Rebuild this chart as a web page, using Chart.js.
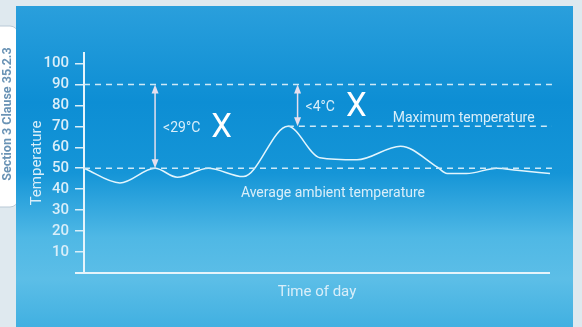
<!DOCTYPE html>
<html>
<head>
<meta charset="utf-8">
<script src="https://cdn.jsdelivr.net/npm/chart.js@4.4.0/dist/chart.umd.min.js"></script>
<style>
    html, body { margin: 0; padding: 0; background: #dfe9ef; }
    #wrap { width: 582px; height: 327px; position: relative; }
</style>
</head>
<body>
<div id="wrap"><canvas id="tempChart"></canvas></div>
<script>
// 温度の推移 (横軸は時刻、目盛りなし)
const hours = [0, 1.85, 3.66, 4.8, 6.4, 8.2, 10.5, 12.15, 14.06, 16.3, 18.2, 18.7, 19.7, 21.27, 22.3, 24];
const temps = [50, 43, 50, 45.7, 50, 46, 70, 55, 54, 60.5, 50.5, 47.5, 47.5, 50, 49, 47.5];

// 縦軸の目盛り
const yTicks = [10, 20, 30, 40, 50, 60, 70, 80, 90, 100];

// 破線の基準線: 上限 / 最高温度 / 平均周囲温度
const refLevels = [90, 70, 50];
const refStarts = [0, 10.5, 0];
const refEnd = 24.1;

// 差を示す矢印
const gapLabels = ['<29°C', '<4°C'];
const gapHours = [3.66, 11.0];
const gapFrom = [50, 70];
const gapTo = [90, 90];

// 基準線のラベル
const lineLabels = ['Maximum temperature', 'Average ambient temperature'];

const TEXT = '#d9eef9';
const FONT = 'Roboto, "Open Sans", sans-serif';

/**
 * 背景 (枠・青いパネル・左のタブ)
 */
const backdrop = {
    id: 'backdrop',
    beforeDraw(chart) {
        const ctx = chart.ctx;
        ctx.save();
        ctx.fillStyle = '#dfe9ef';
        ctx.fillRect(0, 0, chart.width, chart.height);

        // タブ
        ctx.fillStyle = '#ffffff';
        ctx.strokeStyle = '#b9c9d6';
        ctx.lineWidth = 1;
        ctx.beginPath();
        ctx.roundRect(-10, 26, 28, 181, 8);
        ctx.fill();
        ctx.stroke();
        ctx.translate(8, 114);
        ctx.rotate(-Math.PI / 2);
        ctx.fillStyle = '#6a93b5';
        ctx.font = 'bold 12.5px ' + FONT;
        ctx.textAlign = 'center';
        ctx.textBaseline = 'middle';
        ctx.fillText('Section 3 Clause 35.2.3', 0, 0);
        ctx.restore();

        // パネル
        ctx.save();
        const g = ctx.createLinearGradient(0, 6, 0, chart.height);
        g.addColorStop(0, '#2a9fdc');
        g.addColorStop(0.3, '#0d8ed4');
        g.addColorStop(0.52, '#1595d7');
        g.addColorStop(0.72, '#4fb8e5');
        g.addColorStop(0.85, '#5cbee7');
        g.addColorStop(1, '#41b0e1');
        ctx.fillStyle = g;
        ctx.fillRect(16, 6, 557, chart.height - 6);
        ctx.restore();
    }
};

/**
 * 注記 (矢印・差の値・基準線ラベル・X軸の延長)
 */
const notes = {
    id: 'notes',
    afterDatasetsDraw(chart) {
        const ctx = chart.ctx;
        const xs = chart.scales.x;
        const ys = chart.scales.y;
        const area = chart.chartArea;
        ctx.save();

        // X軸線 (目盛りの位置から)
        ctx.strokeStyle = '#e6f4fb';
        ctx.lineWidth = 2;
        ctx.beginPath();
        ctx.moveTo(area.left - 9, ys.getPixelForValue(0));
        ctx.lineTo(area.right, ys.getPixelForValue(0));
        ctx.stroke();

        // 矢印
        gapLabels.forEach((label, i) => {
            const x = xs.getPixelForValue(gapHours[i]);
            const y1 = ys.getPixelForValue(gapTo[i]);
            const y2 = ys.getPixelForValue(gapFrom[i]);
            ctx.strokeStyle = '#e6dfee';
            ctx.fillStyle = '#e6dfee';
            ctx.lineWidth = 1.5;
            ctx.beginPath();
            ctx.moveTo(x, y1 + 4);
            ctx.lineTo(x, y2 - 4);
            ctx.stroke();
            [[y1, 1], [y2, -1]].forEach(([y, d]) => {
                ctx.beginPath();
                ctx.moveTo(x, y);
                ctx.lineTo(x - 3.5, y + d * 9);
                ctx.lineTo(x + 3.5, y + d * 9);
                ctx.closePath();
                ctx.fill();
            });

            const midY = (y1 + y2) / 2 + 2;
            ctx.fillStyle = TEXT;
            ctx.font = '14px ' + FONT;
            ctx.textAlign = 'left';
            ctx.textBaseline = 'middle';
            ctx.fillText(label, x + 8, midY);
            const w = ctx.measureText(label).width;
            ctx.fillStyle = '#ffffff';
            ctx.font = '33px ' + FONT;
            ctx.fillText('X', x + 8 + w + 11, midY);
        });

        // 基準線ラベル
        ctx.fillStyle = TEXT;
        ctx.font = '14px ' + FONT;
        ctx.textAlign = 'left';
        ctx.textBaseline = 'middle';
        ctx.fillText(lineLabels[0], xs.getPixelForValue(15.9), ys.getPixelForValue(refLevels[1]) - 8);
        ctx.fillText(lineLabels[1], xs.getPixelForValue(8.08), ys.getPixelForValue(refLevels[2]) + 25);
        ctx.restore();
    }
};

function buildDatasets() {
    const sets = refLevels.map((level, i) => ({
        data: [{ x: refStarts[i], y: level }, { x: refEnd, y: level }],
        borderColor: '#cde9f7',
        borderWidth: 1.5,
        borderDash: [6, 5],
        pointRadius: 0,
        clip: false
    }));
    sets.push({
        data: hours.map((h, i) => ({ x: h, y: temps[i] })),
        borderColor: '#e2f5fd',
        borderWidth: 1.5,
        pointRadius: 0,
        cubicInterpolationMode: 'monotone',
        clip: false
    });
    return sets;
}

const chart = new Chart(document.getElementById('tempChart'), {
    type: 'line',
    data: { datasets: buildDatasets() },
    options: {
        responsive: true,
        maintainAspectRatio: false,
        animation: false,
        layout: { padding: { left: 0, top: 53, right: 32, bottom: 0 } },
        plugins: { legend: { display: false }, tooltip: { enabled: false } },
        scales: {
            x: {
                type: 'linear',
                min: 0,
                max: 24,
                ticks: { display: false },
                grid: { display: false },
                border: { display: false },
                title: {
                    display: true,
                    text: 'Time of day',
                    color: TEXT,
                    font: { family: FONT, size: 15 },
                    padding: { top: 0, bottom: 26 }
                },
                afterFit(scale) { scale.height = 54; }
            },
            y: {
                min: 0,
                max: 105,
                afterBuildTicks(scale) {
                    scale.ticks = yTicks.map(v => ({ value: v }));
                },
                ticks: {
                    color: TEXT,
                    font: { family: FONT, size: 15, weight: '500' },
                    padding: 6
                },
                grid: {
                    drawOnChartArea: false,
                    color: '#d9eef9',
                    lineWidth: 1.5,
                    tickLength: 9
                },
                border: { display: true, color: '#e6f4fb', width: 2 },
                title: {
                    display: true,
                    text: 'Temperature',
                    color: TEXT,
                    font: { family: FONT, size: 15 },
                    padding: { top: 28, bottom: 0 }
                },
                afterFit(scale) { scale.width = 84; }
            }
        }
    },
    plugins: [backdrop, notes]
});
</script>
</body>
</html>
